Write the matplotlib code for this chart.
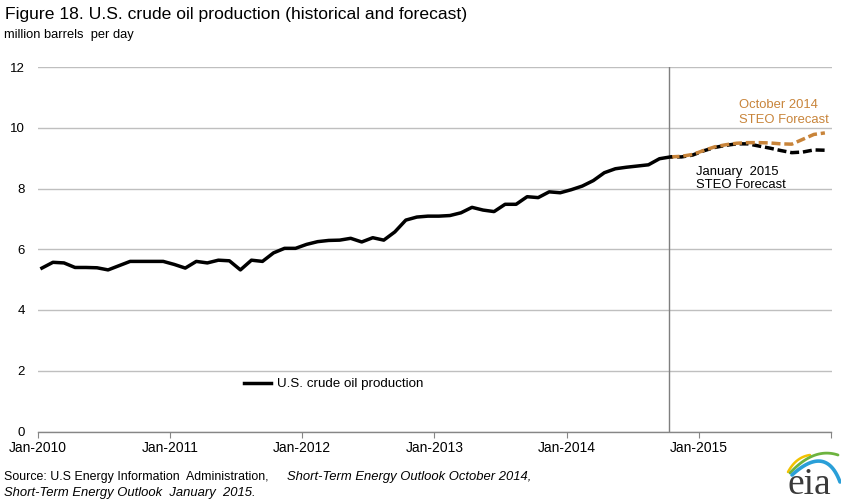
import numpy as np
import matplotlib
matplotlib.use("Agg")
import matplotlib.pyplot as plt

plt.rcParams['font.family'] = ['Liberation Sans', 'DejaVu Sans']

# -----------------------------
# Data (million barrels per day), monthly from Jan-2010
hist = [5.38, 5.57, 5.55, 5.40, 5.40, 5.39, 5.32, 5.46, 5.60, 5.60, 5.60, 5.60,
        5.50, 5.38, 5.60, 5.55, 5.64, 5.62, 5.32, 5.64, 5.60, 5.88, 6.03, 6.03,
        6.16, 6.25, 6.29, 6.30, 6.36, 6.24, 6.38, 6.30, 6.57, 6.96, 7.06, 7.09,
        7.09, 7.11, 7.20, 7.38, 7.29, 7.24, 7.48, 7.48, 7.73, 7.70, 7.89, 7.86,
        7.96, 8.08, 8.26, 8.52, 8.65, 8.70, 8.74, 8.78, 8.98, 9.04]
# forecasts Oct-2014 .. Dec-2015
oct14_fc = [9.04, 9.06, 9.12, 9.25, 9.37, 9.44, 9.49, 9.51, 9.51, 9.50, 9.47, 9.46, 9.62, 9.78, 9.83]
jan15_fc = [9.04, 9.04, 9.10, 9.24, 9.35, 9.42, 9.47, 9.47, 9.40, 9.33, 9.25, 9.18, 9.20, 9.27, 9.26]
year_labels = ['Jan-2010', 'Jan-2011', 'Jan-2012', 'Jan-2013', 'Jan-2014', 'Jan-2015', '']
y_ticks = [0, 2, 4, 6, 8, 10, 12]
# -----------------------------

W, H = 841, 503
fig = plt.figure(figsize=(W / 100, H / 100), dpi=100)
ax = fig.add_axes([37.5 / W, 1 - 431.5 / H, (831.5 - 37.5) / W, (431.5 - 67) / H])

# months since Jan-2010, points sit a bit into each month like the original date axis
shift = 0.4
m_hist = np.arange(len(hist)) + shift
m_fc = np.arange(len(hist) - 1, len(hist) - 1 + len(oct14_fc)) + shift

orange = '#C8843A'
ax.plot(m_fc, jan15_fc, color='black', lw=2.5, ls=(1.8, (2.6, 1.1)), zorder=3)
ax.plot(m_fc, oct14_fc, color=orange, lw=2.5, ls=(0, (2.6, 1.1)), zorder=4)
ax.plot(m_hist, hist, color='black', lw=2.5, zorder=5, label='U.S. crude oil production')

ax.axvline(len(hist) - 1 + 0.3, color='#7F7F7F', lw=1, zorder=2)

ax.set_xlim(0, 72)
ax.set_ylim(0, 12)
ax.set_yticks(y_ticks)
ax.set_xticks(np.arange(0, 73, 12))
ax.set_xticklabels(year_labels)
ax.grid(axis='y', color='#BFBFBF', lw=1)
ax.set_axisbelow(True)
for s in ['top', 'right', 'left']:
    ax.spines[s].set_visible(False)
ax.spines['bottom'].set_color('#868686')
ax.spines['bottom'].set_linewidth(1)
ax.tick_params(axis='x', length=4, color='#868686', labelsize=10, pad=3)
ax.tick_params(axis='y', length=0, labelsize=9.5, pad=9)

ax.legend(loc='lower left', bbox_to_anchor=(0.245, 0.08), frameon=False, fontsize=9.6,
          handlelength=2.0, handletextpad=0.5)

ax.text(63.6, 10.65, 'October 2014', color=orange, fontsize=9.4)
ax.text(63.6, 10.16, 'STEO Forecast', color=orange, fontsize=9.4)
ax.text(59.7, 8.44, 'January  2015', color='black', fontsize=9.4)
ax.text(59.7, 8.02, 'STEO Forecast', color='black', fontsize=9.4)

fig.text(5 / W, 1 - 19 / H, 'Figure 18. U.S. crude oil production (historical and forecast)',
         fontsize=12.6, va='baseline')
fig.text(4 / W, 1 - 38 / H, 'million barrels  per day', fontsize=9.3, va='baseline')

fig.text(4 / W, 1 - 480 / H, 'Source: U.S Energy Information  Administration, ', fontsize=8.9, va='baseline')
fig.text(287 / W, 1 - 480 / H, 'Short-Term Energy Outlook October 2014,', fontsize=9.4,
         va='baseline', style='italic')
fig.text(4 / W, 1 - 496 / H, 'Short-Term Energy Outlook  January  2015.', fontsize=9.4,
         va='baseline', style='italic')

# eia logo, drawn in pixel units (y upwards from the figure bottom)
lax = fig.add_axes([775 / W, 0, 66 / W, 55 / H])
lax.set_xlim(775, 841)
lax.set_ylim(0, 55)
lax.axis('off')
lax.text(809, 0.5, 'eia', family='Liberation Serif', fontsize=27, ha='center', va='bottom',
         color='#3a3a3a')


def swoosh(p0, p1, p2, color, lw):
    t = np.linspace(0, 1, 40)[:, None]
    pts = (1 - t) ** 2 * np.array(p0) + 2 * (1 - t) * t * np.array(p1) + t ** 2 * np.array(p2)
    lax.plot(pts[:, 0], pts[:, 1], color=color, lw=lw, solid_capstyle='round')


swoosh((788, 31), (796, 46), (810, 48), '#F2C200', 1.8)
swoosh((790, 30), (814, 56), (838, 48), '#6DB33F', 2.0)
swoosh((792, 28), (826, 59), (840, 21), '#2A9FD8', 2.6)

fig.savefig('out.png', dpi=100)
